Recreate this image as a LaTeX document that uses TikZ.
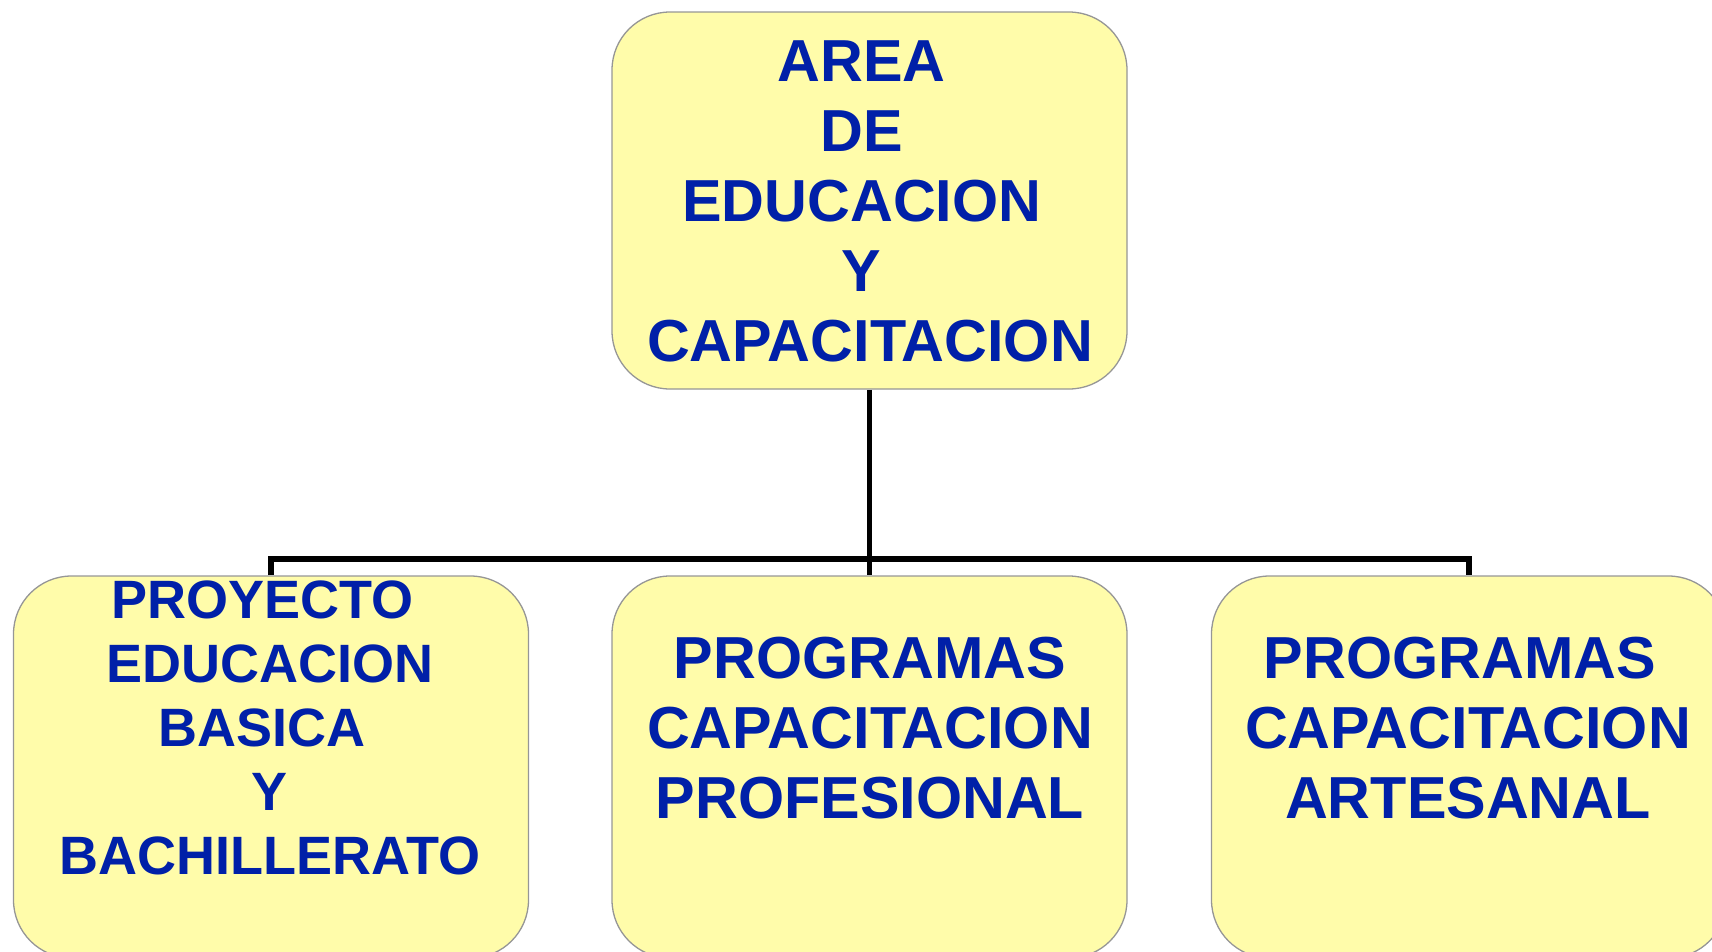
\documentclass[tikz,border=0pt]{standalone}
\usepackage{fontspec}
\setmainfont{Liberation Sans}
\usetikzlibrary{backgrounds}
\definecolor{boxfill}{RGB}{255,252,170}
\definecolor{boxborder}{RGB}{150,150,150}
\definecolor{textblue}{RGB}{0,32,168}
\newcommand{\tsp}{\kern0.278em}
\tikzset{
  orgbox/.style={rectangle, draw=boxborder, line width=1.3pt, fill=boxfill,
    rounded corners=58pt, minimum width=515pt, inner sep=0pt},
  lbl/.style={text=textblue, align=center, inner sep=0pt, anchor=north,
    font=\bfseries\fontsize{59.3}{70}\selectfont},
  lblsmall/.style={lbl, font=\bfseries\fontsize{54}{64}\selectfont},
  conn/.style={line width=5.5pt, black, line join=miter}
}
\begin{document}
\begin{tikzpicture}[x=1pt,y=-1pt]
\useasboundingbox (0,0) rectangle (1712,951);
\clip (0,0) rectangle (1712,951);
\coordinate (bus) at (0,559);
\node[orgbox, minimum height=377pt] (top) at (869.5,200.5) {};
\node[orgbox, minimum height=382pt] (b1) at (271,767) {};
\node[orgbox, minimum height=382pt] (b2) at (869.5,767) {};
\node[orgbox, minimum height=382pt] (b3) at (1469,767) {};
\begin{scope}[on background layer]
\draw[conn] (top.south) -- (b2.north);
\draw[conn] (b1.north) -- (b1.north |- bus) -- (b3.north |- bus) -- (b3.north);
\end{scope}
\node[lbl] (t0) at (870,40) {AREA\tsp\\DE\tsp\\EDUCACION\tsp\\Y\tsp\\CAPACITACION};
\node[lblsmall] (t1) at (270,581) {PROYECTO\tsp\\EDUCACION\\BASICA\tsp\\Y\\BACHILLERATO};
\node[lbl] (t2) at (870,637) {PROGRAMAS\\CAPACITACION\\PROFESIONAL};
\node[lbl] (t3) at (1468,637) {PROGRAMAS\tsp\\CAPACITACION\\ARTESANAL};
\end{tikzpicture}
\end{document}
